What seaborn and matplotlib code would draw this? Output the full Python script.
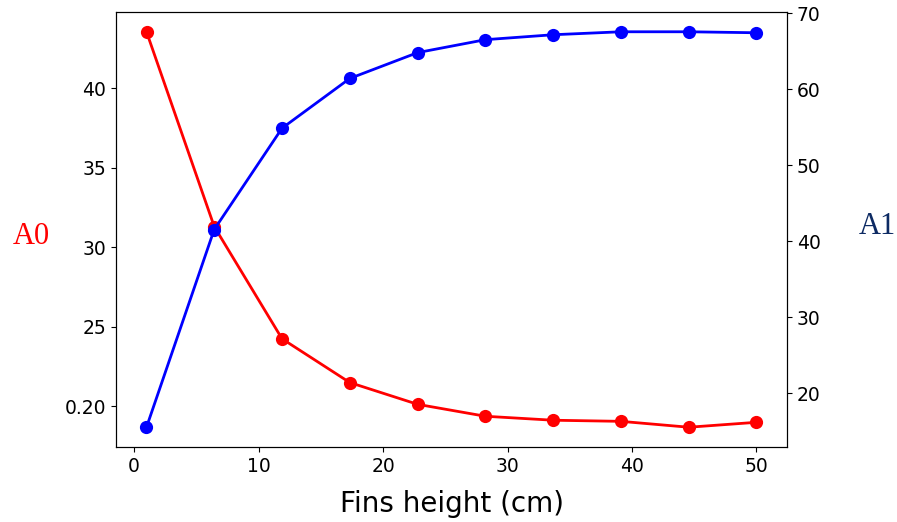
import matplotlib
matplotlib.use("Agg")
import matplotlib.pyplot as plt
import seaborn as sns
import pandas as pd

fins_height = [1.0, 6.44, 11.89, 17.33, 22.78, 28.22, 33.67, 39.11, 44.56, 50.0]
a0_values = [0.4356, 0.3131, 0.2425, 0.2150, 0.2013, 0.1938, 0.1913, 0.1906, 0.1869, 0.1900]
a1_values = [15.56, 41.57, 54.9, 61.44, 64.84, 66.54, 67.19, 67.58, 67.58, 67.45]
left_ticks = [0.20, 0.25, 0.30, 0.35, 0.40]
left_ticklabels = ["0.20", "25", "30", "35", "40"]
right_ticks = [20, 30, 40, 50, 60, 70]

df = pd.DataFrame({"x": fins_height, "A0": a0_values, "A1": a1_values})

fig = plt.figure(figsize=(8.97, 5.22), dpi=100)
ax = fig.add_axes([116/897, 1-447/522, (787-116)/897, (447-12)/522])
ax2 = ax.twinx()

sns.lineplot(data=df, x="x", y="A0", ax=ax, color="red", marker="o",
             markersize=9.5, markeredgewidth=0, linewidth=2)
sns.lineplot(data=df, x="x", y="A1", ax=ax2, color="blue", marker="o",
             markersize=9.5, markeredgewidth=0, linewidth=2)

ax.set_yticks(left_ticks)
ax.set_yticklabels(left_ticklabels)
ax2.set_yticks(right_ticks)
ax.tick_params(labelsize=13.5)
ax2.tick_params(labelsize=13.5)
ax.set_xticks([0, 10, 20, 30, 40, 50])

ax.set_xlabel("Fins height (cm)", fontsize=20, labelpad=10)
ax.set_ylabel("")
ax2.set_ylabel("")
fig.text(31/897, 1-236/522, "A0", color="red", fontsize=22,
         family=["Liberation Serif", "DejaVu Serif"], ha="center", va="center")
fig.text(877/897, 1-227/522, "A1", color="#0d2a63", fontsize=22,
         family=["Liberation Serif", "DejaVu Serif"], ha="center", va="center")

fig.savefig("out.png", dpi=100)
